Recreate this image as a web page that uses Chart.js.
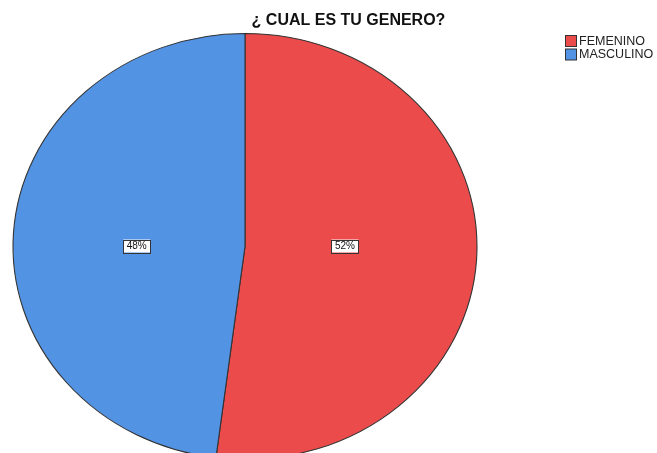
<!DOCTYPE html>
<html>
<head>
<meta charset="utf-8">
<script src="https://cdn.jsdelivr.net/npm/chart.js@4/dist/chart.umd.min.js"></script>
<style>
  html, body { margin: 0; padding: 0; background: #fff; overflow: hidden; }
  #wrap { width: 657px; height: 453px; overflow: hidden; }
</style>
</head>
<body>
<div id="wrap"><canvas id="chart" width="657" height="480"></canvas></div>
<script>
const title = "¿ CUAL ES TU GENERO?";
const categories = ["FEMENINO", "MASCULINO"];
const values = [52, 48];
const colors = ["#ec4b4c", "#5393e4"];

const ctx = document.getElementById("chart").getContext("2d");
const FONT = '"Liberation Sans", Arial, sans-serif';
const stretchX = 232 / 213; // pie is drawn as an ellipse

// squash the pie horizontally around its centre
const ellipsePlugin = {
  id: "ellipse",
  beforeDatasetsDraw(chart) {
    const arc = chart.getDatasetMeta(0).data[0];
    const c = chart.ctx;
    c.save();
    c.translate(arc.x, arc.y);
    c.scale(stretchX, 1);
    c.translate(-arc.x, -arc.y);
  },
  afterDatasetsDraw(chart) {
    chart.ctx.restore();
  },
};

// title, legend and percentage boxes
const textPlugin = {
  id: "texts",
  afterDraw(chart) {
    const c = chart.ctx;
    c.save();
    c.fillStyle = "#111";
    c.font = "bold 16px " + FONT;
    c.textAlign = "center";
    c.textBaseline = "middle";
    c.fillText(title, 348.5, 21);

    // legend
    c.font = "12.5px " + FONT;
    c.textAlign = "left";
    categories.forEach((name, i) => {
      const y = 35 + i * 13.5;
      c.fillStyle = colors[i];
      c.fillRect(565.5, y + 0.5, 11, 11);
      c.strokeStyle = "#333";
      c.lineWidth = 1;
      c.strokeRect(565.5, y + 0.5, 11, 11);
      c.fillStyle = "#222";
      c.fillText(name, 579, y + 6.5);
    });

    // percentage labels, near the slice centroid, at the pie's mid height
    const total = values.reduce((a, b) => a + b, 0);
    const meta = chart.getDatasetMeta(0);
    c.font = "10px " + FONT;
    c.textAlign = "center";
    meta.data.forEach((arc, i) => {
      const mid = (arc.startAngle + arc.endAngle) / 2;
      const half = (arc.endAngle - arc.startAngle) / 2;
      const d = (2 * Math.sin(half)) / (3 * half) * 1.06;
      const x = arc.x + Math.cos(mid) * arc.outerRadius * d * stretchX;
      const y = arc.y - 0.5;
      const txt = Math.round((values[i] / total) * 100) + "%";
      const w = c.measureText(txt).width + 7;
      const h = 13;
      c.fillStyle = "#fff";
      c.fillRect(x - w / 2, y - h / 2, w, h);
      c.strokeStyle = "#333";
      c.strokeRect(Math.round(x - w / 2) + 0.5, Math.round(y - h / 2) + 0.5, Math.round(w), h);
      c.fillStyle = "#111";
      c.fillText(txt, x, y + 0.5);
    });
    c.restore();
  },
};

new Chart(ctx, {
  type: "pie",
  data: {
    labels: categories,
    datasets: [
      {
        data: values,
        backgroundColor: colors,
        borderColor: "#333",
        borderWidth: 1,
      },
    ],
  },
  options: {
    responsive: false,
    animation: false,
    layout: { padding: { left: 31.5, top: 33, right: 198.5, bottom: 20 } },
    plugins: {
      legend: { display: false },
      title: { display: false },
      tooltip: { enabled: false },
    },
  },
  plugins: [ellipsePlugin, textPlugin],
});
</script>
</body>
</html>
